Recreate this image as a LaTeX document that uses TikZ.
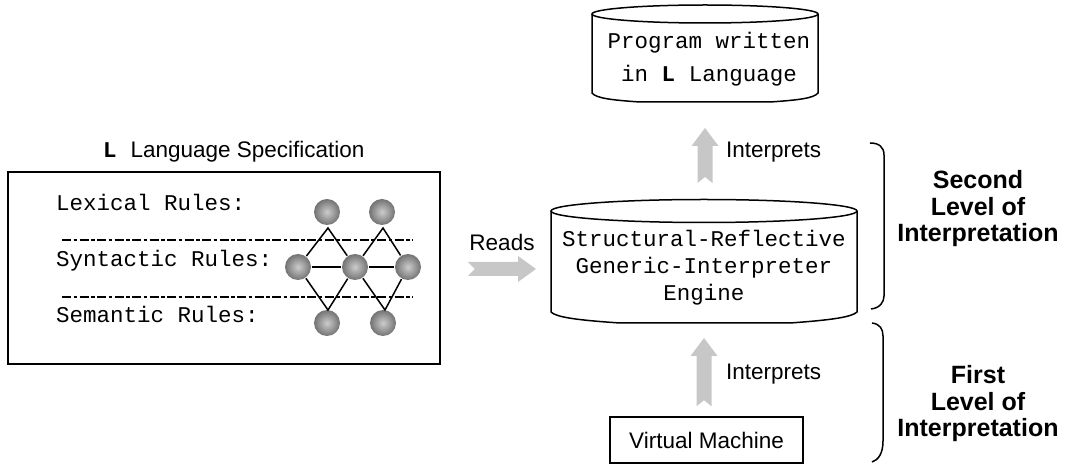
\documentclass[tikz,border=0pt]{standalone}
\usepackage{fontspec}
\setmainfont{Liberation Sans}
\setmonofont{Liberation Mono}
\usetikzlibrary{calc}
\definecolor{arrowgray}{gray}{0.78}
\begin{document}
\begin{tikzpicture}[x=1pt,y=1pt,line width=1.5pt,
  mono/.style={font=\fontsize{22.5}{27}\selectfont\ttfamily},
  sans/.style={font=\fontsize{22.5}{26}\selectfont},
  lvl/.style={font=\fontsize{25}{26.5}\selectfont\bfseries,align=center},
  ball/.style={circle,minimum size=26pt,inner sep=0pt,inner color=black!20,outer color=black!55},
  rulesep/.style={line width=1.8pt,dash pattern=on 9pt off 2.5pt on 3.5pt off 2.5pt},
  fatH/.style={to path={let \p1=(\tikztostart),\p2=(\tikztotarget) in
     (\x1,\y1+7pt) -- (\x2-18pt,\y1+7pt) -- (\x2-18pt,\y1+13pt) -- (\x2,\y1)
     -- (\x2-18pt,\y1-13pt) -- (\x2-18pt,\y1-7pt) -- (\x1,\y1-7pt) -- (\x1+7pt,\y1) -- cycle}},
  fatV/.style={to path={let \p1=(\tikztostart),\p2=(\tikztotarget) in
     (\x1-7.5pt,\y1) -- (\x1-7.5pt,\y2-18pt) -- (\x1-13.5pt,\y2-18pt) -- (\x1,\y2)
     -- (\x1+13.5pt,\y2-18pt) -- (\x1+7.5pt,\y2-18pt) -- (\x1+7.5pt,\y1) -- (\x1,\y1+6pt) -- cycle}}
]
\useasboundingbox (0,0) rectangle (1069,466);

% ---------- Language specification box ----------
\node[sans,anchor=mid west] (title) at (99,311) {{\ttfamily\bfseries L}\hspace{14pt}Language Specification};
\node[draw,minimum width=432pt,minimum height=192pt,inner sep=0pt] (spec) at (224,198) {};
\node[mono,anchor=mid west] (lex) at (52,258) {Lexical Rules:};
\node[mono,anchor=mid west] (syn) at (52,202) {Syntactic Rules:};
\node[mono,anchor=mid west] (sem) at (52,146) {Semantic Rules:};
\coordinate (d1a) at (62,226); \coordinate (d1b) at (413,226);
\coordinate (d2a) at (62,169); \coordinate (d2b) at (413,169);
\draw[rulesep] (d1a) -- (d1b);
\draw[rulesep] (d2a) -- (d2b);

% balls
\node[ball] (t1) at (327,254) {};
\node[ball] (t2) at (382,254) {};
\node[ball] (m1) at (298,199) {};
\node[ball] (m2) at (355,199) {};
\node[ball] (m3) at (408,199) {};
\node[ball] (b1) at (327,143) {};
\node[ball] (b2) at (383,143) {};
\coordinate (p1) at (328,238); \coordinate (p2) at (383,238);
\coordinate (q1) at (328,156); \coordinate (q2) at (385,156);
\draw (m1) -- (p1) -- (m2) -- (p2) -- (m3);
\draw (m1) -- (q1) -- (m2) -- (q2) -- (m3);
\draw (m1) -- (m2);
\draw (m2) -- (m3);

% ---------- Engine cylinder ----------
\filldraw[fill=white] (551,255) -- (551,154) .. controls (556,149) and (575,146) .. (620,143)
   -- (790,143) .. controls (832,146) and (852,149) .. (857,154) -- (857,255);
\draw[fill=white] (704,255) ellipse [x radius=153, y radius=11.5];
\node[mono,align=center,minimum width=306pt] (eng) at (704,198) {Structural-Reflective\\Generic-Interpreter\\Engine};
\coordinate (engtop) at (704,266.5);
\coordinate (engbot) at (704,143);
\coordinate (engleft) at (551,197);

% ---------- Program cylinder ----------
\filldraw[fill=white] (592,452) -- (592,373) .. controls (596,368) and (610,366) .. (640,364)
   -- (770,364) .. controls (800,366) and (814,368) .. (818,373) -- (818,452);
\draw[fill=white] (705,452) ellipse [x radius=113, y radius=9];
\node[mono,align=center] (prog) at (709,407) {Program written\\[6pt]in {\bfseries L} Language};
\coordinate (progbot) at (705,364);

% ---------- Virtual machine ----------
\node[draw,sans,minimum width=193pt,minimum height=46pt,inner sep=0pt] (vm) at (706.5,26) {Virtual Machine};

% ---------- Block arrows ----------
\coordinate (ra) at ($(spec.east)+(27,-1)$);
\coordinate (rb) at ($(engleft)+(-15,0)$);
\fill[arrowgray] (ra) to[fatH] (rb);
\node[sans,anchor=mid] (reads) at (502,218) {Reads};

\coordinate (ua) at ($(engtop)+(1,16.5)$);
\coordinate (ub) at ($(progbot)+(0,-26)$);
\fill[arrowgray] (ua) to[fatV] (ub);
\node[sans,anchor=mid west] (int2) at (722,311) {Interprets};

\coordinate (la) at ($(vm.north)+(-2.5,10)$);
\coordinate (lb) at ($(engbot)+(0,-15)$);
\fill[arrowgray] (la) to[fatV] (lb);
\node[sans,anchor=mid west] (int1) at (722,89) {Interprets};

% ---------- Brackets ----------
\draw (870,323) .. controls (879,323) and (884,319) .. (884,311) -- (884,170)
   .. controls (884,164) and (880,158) .. (871,157);
\draw (872,143) .. controls (880,142) and (883,137) .. (883,130) -- (883,25)
   .. controls (883,12) and (878,6) .. (872,4);

\node[lvl] (second) at (978,257) {Second\\Level of\\Interpretation};
\node[lvl] (first) at (978,62) {First\\Level of\\Interpretation};
\end{tikzpicture}
\end{document}
